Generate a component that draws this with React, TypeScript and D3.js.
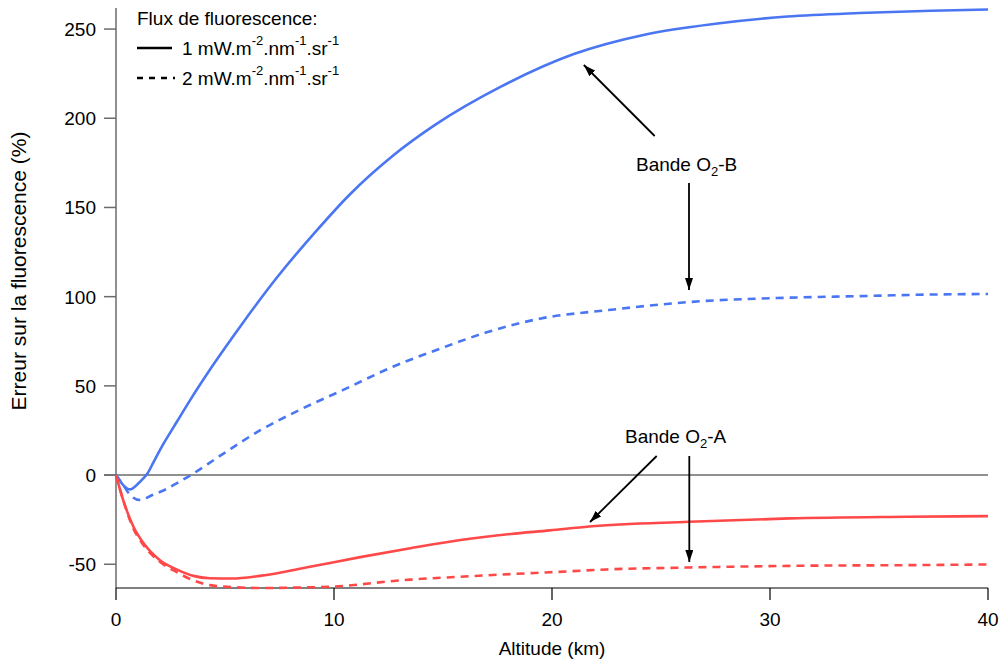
import React from "react";
import * as d3 from "d3";

const altB1 = [0, 0.33, 0.64, 0.95, 1.25, 1.45, 1.71, 2.2, 2.8, 3.4, 4.5, 5.8, 7.4, 9.2, 10.7, 12.7, 14.6, 17.7, 21, 24.3, 27.5, 30.8, 34.1, 37.4, 40];
const valB1 = [0, -5.6, -8, -5.6, -1.9, 1, 7, 18, 30, 42, 62.5, 85, 111, 137, 157, 179, 196, 218, 236, 247, 253, 257, 259, 260.3, 261];

const altB2 = [0, 0.3, 0.64, 1.1, 1.7, 2.2, 2.8, 3.3, 4.8, 6.6, 8.4, 10.4, 12.7, 14.9, 17, 19.5, 22.6, 26.3, 30.8, 34.1, 37.4, 40];
const valB2 = [0, -5, -11, -14, -11, -8.5, -4.5, -1, 11, 25, 36.4, 47.6, 60.7, 71, 80, 87.8, 92.5, 97, 99.4, 100.3, 101.2, 101.5];

const altA1 = [0, 0.33, 0.8, 1.25, 2.0, 2.8, 3.55, 4.3, 5.3, 6.6, 8.9, 11.2, 13.5, 15.8, 18.1, 19.9, 21.7, 26.3, 30.9, 36.3, 40];
const valA1 = [0, -14, -29, -38, -47.6, -53, -56.5, -57.8, -58, -56.5, -51.4, -46, -41, -36.4, -33, -31, -28.8, -26.2, -24.3, -23.4, -23];

const altA2 = [0, 0.33, 0.8, 1.25, 2.0, 2.8, 3.55, 4.3, 5.1, 6.6, 8.9, 10, 11.2, 12.5, 13.5, 15.8, 18.1, 19.9, 22.5, 26.3, 31.7, 36.3, 40];
const valA2 = [0, -14, -30, -39, -48.5, -54.5, -59, -61.7, -62.6, -63.3, -62.9, -62.5, -61.3, -59.6, -58.6, -57, -55.5, -54.5, -52.9, -51.8, -50.8, -50.5, -50.1];

const xTicks = [0, 10, 20, 30, 40];
const yTicks = [-50, 0, 50, 100, 150, 200, 250];

const FONT = "'Liberation Sans', Arial, sans-serif";
const BLUE = "#4a76f2";
const RED = "#ff4848";

export default function App() {
  const x = d3.scaleLinear().domain([0, 40]).range([116, 988]);
  const y = d3.scaleLinear().domain([-63.3, 261.8]).range([588, 8]);
  const line = d3
    .line<[number, number]>()
    .x((d) => x(d[0]))
    .y((d) => y(d[1]))
    .curve(d3.curveMonotoneX);
  const mk = (a: number[], v: number[]) => line(a.map((t, i) => [t, v[i]] as [number, number])) || "";

  const series = [
    { a: altB1, v: valB1, c: BLUE, dash: undefined },
    { a: altB2, v: valB2, c: BLUE, dash: "8,6" },
    { a: altA2, v: valA2, c: RED, dash: "8,6" },
    { a: altA1, v: valA1, c: RED, dash: undefined },
  ];

  const arrows = [
    { x1: 654.7, y1: 136, x2: 583.8, y2: 65 },
    { x1: 689, y1: 183, x2: 689, y2: 290 },
    { x1: 656.7, y1: 456, x2: 590, y2: 522 },
    { x1: 689.3, y1: 456, x2: 689.3, y2: 562 },
  ];

  const legendText = (n: string, yy: number) => (
    <text x={182} y={yy} fontSize={19} fontFamily={FONT} fill="#000">
      {n} mW.m
      <tspan fontSize={13} dy={-10}>-2</tspan>
      <tspan dy={10}>.nm</tspan>
      <tspan fontSize={13} dy={-10}>-1</tspan>
      <tspan dy={10}>.sr</tspan>
      <tspan fontSize={13} dy={-10}>-1</tspan>
    </text>
  );

  return (
    <svg
      width={1001}
      height={661}
      style={{ position: "absolute", left: 0, top: 0, background: "#fff" }}
      fontFamily={FONT}
    >
      <defs>
        <marker id="ah" viewBox="0 0 12 8" refX="12" refY="4" markerWidth="12" markerHeight="8" markerUnits="userSpaceOnUse" orient="auto">
          <path d="M0,0 L12,4 L0,8 Z" fill="#000" />
        </marker>
      </defs>
      <line x1={104} x2={988} y1={y(0)} y2={y(0)} stroke="#6b6b6b" strokeWidth={1.5} />
      <line x1={116} x2={116} y1={8} y2={588} stroke="#6b6b6b" strokeWidth={1.5} />
      {yTicks.map((t) => (
        <g key={t}>
          <line x1={104} x2={116} y1={y(t)} y2={y(t)} stroke="#6b6b6b" strokeWidth={1.5} />
          <text x={96} y={y(t) + 7} textAnchor="end" fontSize={19} fill="#000">
            {t}
          </text>
        </g>
      ))}
      <line x1={116} x2={988} y1={588} y2={588} stroke="#000" strokeWidth={1.2} />
      {xTicks.map((t) => (
        <g key={t}>
          <line x1={x(t)} x2={x(t)} y1={588} y2={600} stroke="#000" strokeWidth={1.2} />
          <text x={x(t)} y={626} textAnchor="middle" fontSize={19} fill="#000">
            {t}
          </text>
        </g>
      ))}
      <text x={552} y={655} textAnchor="middle" fontSize={19} fill="#000">
        Altitude (km)
      </text>
      <text transform="translate(26,271) rotate(-90)" textAnchor="middle" fontSize={21} fill="#000">
        Erreur sur la fluorescence (%)
      </text>

      {series.map((s, i) => (
        <path key={i} d={mk(s.a, s.v)} fill="none" stroke={s.c} strokeWidth={2.6} strokeDasharray={s.dash} />
      ))}

      <text x={137} y={25} fontSize={19} fill="#000">Flux de fluorescence:</text>
      <line x1={137} x2={172} y1={48} y2={48} stroke="#000" strokeWidth={2.5} />
      {legendText("1", 55)}
      <line x1={137} x2={175} y1={78} y2={78} stroke="#000" strokeWidth={2.5} strokeDasharray="6,6" />
      {legendText("2", 85)}

      <text x={636} y={171} fontSize={19} fill="#000">
        Bande O<tspan fontSize={13} dy={5}>2</tspan><tspan dy={-5}>-B</tspan>
      </text>
      <text x={625} y={443} fontSize={19} fill="#000">
        Bande O<tspan fontSize={13} dy={5}>2</tspan><tspan dy={-5}>-A</tspan>
      </text>
      {arrows.map((a, i) => (
        <line key={i} x1={a.x1} y1={a.y1} x2={a.x2} y2={a.y2} stroke="#000" strokeWidth={1.8} markerEnd="url(#ah)" />
      ))}
    </svg>
  );
}
